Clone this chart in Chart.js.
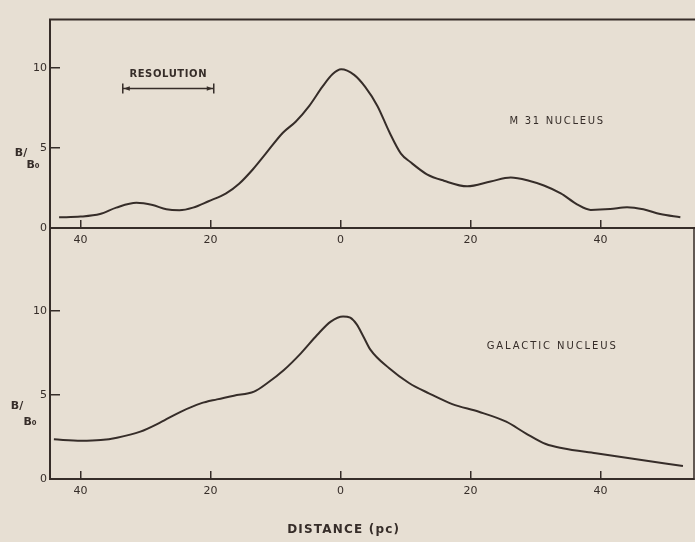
<!DOCTYPE html>
<html><head><meta charset="utf-8">
<script src="https://cdn.jsdelivr.net/npm/chart.js@4.4.0/dist/chart.umd.min.js"></script>
<style>
html,body{margin:0;padding:0;background:#e7dfd3;}
#wrap{position:relative;width:695px;height:542px;overflow:hidden;background:#e7dfd3;}
#wrap canvas{position:absolute;left:0;top:0;}
</style></head><body>
<div id="wrap"><canvas id="cTop" width="695" height="542"></canvas><canvas id="cBot" width="695" height="542"></canvas></div>
<script>
// ---- data ----
const xTicks = [-40, -20, 0, 20, 40];
const yTicks = [0, 5, 10];
const m31X = [-43.3,-40,-37,-34.5,-31.4,-28.9,-26.8,-24.8,-22.7,-20.3,-17.6,-15.6,-13.5,-11.5,-8.9,-6.9,-4.8,-2.8,-1.2,0.1,2.1,3.8,5.7,7.5,9.3,10.8,13.3,15.9,19.5,23.1,26.2,29,31.3,33.9,36.4,38.5,41.5,44.1,46.6,49.2,52.3];
const m31Y = [0.67,0.71,0.87,1.27,1.57,1.43,1.17,1.11,1.27,1.67,2.16,2.76,3.65,4.64,5.93,6.63,7.62,8.8,9.6,9.9,9.55,8.8,7.6,6.0,4.64,4.1,3.35,2.95,2.6,2.9,3.15,2.95,2.65,2.16,1.48,1.13,1.18,1.3,1.17,0.87,0.67];
const galX = [-44.1,-39.9,-36.9,-34.4,-30.8,-27.7,-24.6,-21.5,-19,-16.4,-13.3,-11.3,-8.7,-6.1,-3.6,-1.5,0.4,1.5,2.5,3.5,4.6,7.5,10.6,13.6,17.2,21.3,25.5,28.5,31.6,34.2,39.3,44.5,52.7];
const galY = [2.36,2.28,2.32,2.46,2.82,3.37,4.0,4.5,4.74,4.96,5.2,5.7,6.49,7.48,8.57,9.37,9.68,9.6,9.2,8.5,7.7,6.59,5.7,5.1,4.46,4.0,3.41,2.72,2.08,1.83,1.53,1.23,0.77];
const topLabel = 'M 31 NUCLEUS';
const botLabel = 'GALACTIC NUCLEUS';
const resLabel = 'RESOLUTION';
const xTitle = 'DISTANCE (pc)';

// ---- styles / layout ----
const INK = '#362d29';
const FONT = '"DejaVu Sans", sans-serif';
const ann = {
  res: {x0: -33.5, x1: -19.5, y: 8.7, ty: 9.6},
  topLab: {x: 26.0, y: 6.65},
  botLab: {x: 22.5, y: 7.9}
};

function pts(xs, ys){ return xs.map((x,i)=>({x:x, y:ys[i]})); }

function scalesCfg(ymax, xh){
  return {
    x: {
      type:'linear', min:-44.7, max:54.4,
      afterBuildTicks: s => { s.ticks = xTicks.map(v=>({value:v})); },
      afterFit: s => { s.height = xh; },
      grid: {drawOnChartArea:false, drawTicks:true, tickLength:-8, color:INK, lineWidth:1.5},
      border: {display:true, color:INK, width:2},
      ticks: {padding:14, color:INK, font:{family:FONT, size:11}, autoSkip:false, maxRotation:0,
              callback: v => String(Math.abs(v))}
    },
    y: {
      type:'linear', min:0, max:ymax,
      afterBuildTicks: s => { s.ticks = yTicks.map(v=>({value:v})); },
      afterFit: s => { s.width = 50; },
      grid: {drawOnChartArea:false, drawTicks:true, tickLength:-10, color:INK, lineWidth:1.5},
      border: {display:true, color:INK, width:2},
      ticks: {padding:13, color:INK, font:{family:FONT, size:11}, callback: v => String(v)}
    }
  };
}

function drawBB(ctx, x1, y1, x2, y2){
  ctx.save();
  ctx.fillStyle = INK;
  ctx.font = 'bold 11px ' + FONT;
  ctx.textAlign = 'center'; ctx.textBaseline = 'middle';
  ctx.fillText('B/', x1, y1);
  ctx.fillText('B₀', x2, y2);
  ctx.restore();
}

const topPlugin = {
  id:'topAnn',
  afterDraw(chart){
    const {ctx, chartArea:a, scales:{x, y}} = chart;
    ctx.save();
    ctx.strokeStyle = INK; ctx.fillStyle = INK;
    // top frame line and extension of the axis to the page edge
    ctx.lineWidth = 2;
    ctx.beginPath(); ctx.moveTo(a.left-1, a.top); ctx.lineTo(695, a.top);
    ctx.moveTo(a.right-1, a.bottom); ctx.lineTo(695, a.bottom); ctx.stroke();
    // resolution bar
    const rx0 = x.getPixelForValue(ann.res.x0), rx1 = x.getPixelForValue(ann.res.x1), ry = y.getPixelForValue(ann.res.y);
    ctx.lineWidth = 1.5;
    ctx.beginPath(); ctx.moveTo(rx0, ry); ctx.lineTo(rx1, ry);
    ctx.moveTo(rx0, ry-5); ctx.lineTo(rx0, ry+5);
    ctx.moveTo(rx1, ry-5); ctx.lineTo(rx1, ry+5);
    ctx.stroke();
    ctx.beginPath(); ctx.moveTo(rx0+1, ry); ctx.lineTo(rx0+7, ry-2.2); ctx.lineTo(rx0+7, ry+2.2); ctx.closePath(); ctx.fill();
    ctx.beginPath(); ctx.moveTo(rx1-1, ry); ctx.lineTo(rx1-7, ry-2.2); ctx.lineTo(rx1-7, ry+2.2); ctx.closePath(); ctx.fill();
    ctx.font = 'bold 10px ' + FONT;
    ctx.letterSpacing = '0.6px';
    ctx.textAlign = 'center'; ctx.textBaseline = 'middle';
    ctx.fillText(resLabel, (rx0+rx1)/2, y.getPixelForValue(ann.res.ty));
    // series label
    ctx.font = '10px ' + FONT;
    ctx.letterSpacing = '1.7px';
    ctx.textAlign = 'left';
    ctx.fillText(topLabel, x.getPixelForValue(ann.topLab.x), y.getPixelForValue(ann.topLab.y));
    ctx.letterSpacing = '0px';
    ctx.restore();
    drawBB(ctx, 21, 153, 33, 165);
  }
};

const botPlugin = {
  id:'botAnn',
  afterDraw(chart){
    const {ctx, chartArea:a, scales:{x, y}} = chart;
    ctx.save();
    ctx.strokeStyle = INK; ctx.fillStyle = INK;
    ctx.lineWidth = 1.5;
    ctx.beginPath(); ctx.moveTo(a.right, a.top); ctx.lineTo(a.right, a.bottom+1); ctx.stroke();
    ctx.font = '10px ' + FONT;
    ctx.letterSpacing = '1.9px';
    ctx.textAlign = 'left'; ctx.textBaseline = 'middle';
    ctx.fillText(botLabel, x.getPixelForValue(ann.botLab.x), y.getPixelForValue(ann.botLab.y));
    ctx.font = 'bold 12px ' + FONT;
    ctx.letterSpacing = '1.2px';
    ctx.textAlign = 'center';
    ctx.fillText(xTitle, x.getPixelForValue(0.5), 530);
    ctx.letterSpacing = '0px';
    ctx.restore();
    drawBB(ctx, 17, 406, 30, 422);
  }
};

function lineDs(data){
  return {data:data, borderColor:INK, borderWidth:2, pointRadius:0, fill:false, cubicInterpolationMode:'monotone'};
}

new Chart(document.getElementById('cTop'), {
  type:'line',
  data:{datasets:[lineDs(pts(m31X, m31Y))]},
  options:{
    responsive:false, animation:false, devicePixelRatio:1,
    layout:{padding:{top:10, left:0, right:1, bottom:542-228-24}},
    plugins:{legend:{display:false}, tooltip:{enabled:false}},
    scales: scalesCfg(13, 24)
  },
  plugins:[topPlugin]
});

new Chart(document.getElementById('cBot'), {
  type:'line',
  data:{datasets:[lineDs(pts(galX, galY))]},
  options:{
    responsive:false, animation:false, devicePixelRatio:1,
    layout:{padding:{top:227, left:0, right:1, bottom:0}},
    plugins:{legend:{display:false}, tooltip:{enabled:false}},
    scales: scalesCfg(15, 542-479)
  },
  plugins:[botPlugin]
});
</script>
</body></html>
